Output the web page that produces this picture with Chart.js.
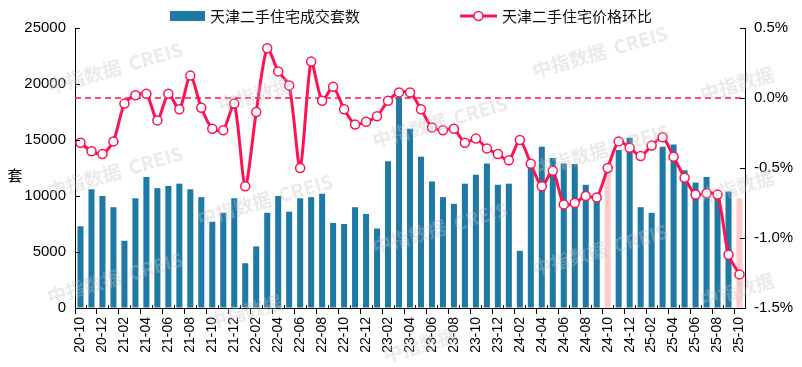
<!DOCTYPE html>
<html>
<head>
<meta charset="utf-8">
<script src="https://cdn.jsdelivr.net/npm/chart.js@4"></script>
<style>
  body { margin: 0; background: #fff; }
  #wrap { width: 802px; height: 367px; }
</style>
</head>
<body>
<div id="wrap"><canvas id="c" width="802" height="367"></canvas></div>
<script>
const months = [
  '20-10','20-11','20-12','21-01','21-02','21-03','21-04','21-05','21-06','21-07','21-08','21-09',
  '21-10','21-11','21-12','22-01','22-02','22-03','22-04','22-05','22-06','22-07','22-08','22-09',
  '22-10','22-11','22-12','23-01','23-02','23-03','23-04','23-05','23-06','23-07','23-08','23-09',
  '23-10','23-11','23-12','24-01','24-02','24-03','24-04','24-05','24-06','24-07','24-08','24-09',
  '24-10','24-11','24-12','25-01','25-02','25-03','25-04','25-05','25-06','25-07','25-08','25-09',
  '25-10'
];

// 成交套数
const volumes = [
  7300, 10600, 10000, 9000, 6000, 9800, 11700, 10700, 10900, 11100, 10600, 9900,
  7700, 8500, 9800, 4000, 5500, 8500, 10000, 8600, 9800, 9900, 10200, 7600,
  7500, 9000, 8400, 7100, 13100, 18800, 16000, 13500, 11300, 9900, 9300, 11100,
  11900, 12900, 11000, 11100, 5100, 12600, 14400, 13400, 12900, 12850, 11000, 9900,
  12400, 14100, 15200, 9000, 8500, 14400, 14600, 12300, 11200, 11700, 10300, 10400,
  9800
];

// 价格环比 (%)
const priceMoM = [
  -0.32, -0.38, -0.40, -0.31, -0.04, 0.02, 0.03, -0.16, 0.03, -0.08, 0.16, -0.07,
  -0.22, -0.23, -0.04, -0.63, -0.10, 0.355, 0.19, 0.09, -0.50, 0.26, -0.02, 0.08,
  -0.08, -0.19, -0.17, -0.13, -0.02, 0.04, 0.04, -0.08, -0.21, -0.23, -0.22, -0.32,
  -0.29, -0.36, -0.40, -0.445, -0.30, -0.47, -0.63, -0.52, -0.76, -0.75, -0.70, -0.71,
  -0.50, -0.31, -0.355, -0.415, -0.34, -0.28, -0.42, -0.57, -0.69, -0.68, -0.69, -1.12,
  -1.26
];

const highlightMonths = ['24-10', '25-10'];
const leftTicks = [0, 5000, 10000, 15000, 20000, 25000];
const rightTicks = [-1.5, -1.0, -0.5, 0.0, 0.5];

const BLUE = '#1f79a5';
const PINK = '#ffcccc';
const RED = '#ff1152';

const barColors = months.map(m => highlightMonths.includes(m) ? PINK : BLUE);

// watermark spots (decorative)
const marks = [
  [115, 68, 1], [115, 172, 1], [115, 278, 1], [255, 95, 0], [265, 200, 1],
  [440, 122, 1], [440, 228, 1], [245, 312, 0], [420, 345, 0],
  [600, 52, 1], [602, 150, 1], [600, 250, 1], [737, 84, 0], [737, 187, 0], [737, 290, 0]
];

const extras = {
  id: 'extras',
  beforeDatasetsDraw(chart) {
    const { ctx, chartArea, scales } = chart;
    const y0 = scales.y1.getPixelForValue(0);
    ctx.save();
    ctx.strokeStyle = RED;
    ctx.lineWidth = 1.3;
    ctx.setLineDash([6, 4]);
    ctx.beginPath();
    ctx.moveTo(chartArea.left, y0);
    ctx.lineTo(chartArea.right, y0);
    ctx.stroke();
    ctx.restore();
  },
  afterDraw(chart) {
    const { ctx, chartArea, scales } = chart;
    ctx.save();
    // inward ticks on both value axes
    ctx.strokeStyle = '#000';
    ctx.lineWidth = 1;
    leftTicks.forEach(v => {
      const y = Math.round(scales.y.getPixelForValue(v)) + 0.5;
      ctx.beginPath(); ctx.moveTo(chartArea.left, y); ctx.lineTo(chartArea.left + 5, y); ctx.stroke();
    });
    rightTicks.forEach(v => {
      const y = Math.round(scales.y1.getPixelForValue(v)) + 0.5;
      ctx.beginPath(); ctx.moveTo(chartArea.right - 5, y); ctx.lineTo(chartArea.right, y); ctx.stroke();
    });
    // short minor ticks between labelled months
    const step = scales.x.getPixelForValue(1) - scales.x.getPixelForValue(0);
    months.forEach((m, i) => {
      if (i % 2 === 1) {
        const x = Math.round(scales.x.getPixelForValue(i) - step / 2) + 0.5;
        ctx.beginPath(); ctx.moveTo(x, chartArea.bottom - 3); ctx.lineTo(x, chartArea.bottom + 1); ctx.stroke();
      }
    });

    // y title
    ctx.fillStyle = '#000';
    ctx.font = '15px "Noto Sans CJK SC"';
    ctx.textAlign = 'center';
    ctx.textBaseline = 'middle';
    ctx.fillText('套', 15, 175);

    // legend
    ctx.textAlign = 'left';
    ctx.fillStyle = BLUE;
    ctx.fillRect(170, 11, 35, 10);
    ctx.fillStyle = '#111';
    ctx.fillText(chart.data.datasets[1].label, 210, 16);
    ctx.strokeStyle = RED;
    ctx.lineWidth = 3;
    ctx.beginPath(); ctx.moveTo(460, 16); ctx.lineTo(497, 16); ctx.stroke();
    ctx.fillStyle = '#fff';
    ctx.lineWidth = 1.5;
    ctx.beginPath(); ctx.arc(478.5, 16, 4.5, 0, Math.PI * 2); ctx.fill(); ctx.stroke();
    ctx.fillStyle = '#111';
    ctx.fillText(chart.data.datasets[0].label, 502, 16);

    // watermarks
    ctx.font = 'bold 19px "Noto Sans CJK SC"';
    ctx.fillStyle = 'rgba(195,195,195,0.35)';
    ctx.textAlign = 'center';
    marks.forEach(([x, y, full]) => {
      ctx.save();
      ctx.translate(x, y);
      ctx.rotate(-0.28);
      ctx.fillText(full ? '中指数据  CREIS' : '中指数据', 0, 0);
      ctx.restore();
    });
    ctx.restore();
  }
};

new Chart(document.getElementById('c'), {
  data: {
    labels: months,
    datasets: [
      {
        type: 'line',
        label: '天津二手住宅价格环比',
        data: priceMoM,
        yAxisID: 'y1',
        borderColor: RED,
        borderWidth: 3,
        tension: 0.25,
        pointRadius: 4.5,
        pointBorderWidth: 1.5,
        pointBackgroundColor: '#fff',
        pointBorderColor: RED,
        order: 0
      },
      {
        type: 'bar',
        label: '天津二手住宅成交套数',
        data: volumes,
        yAxisID: 'y',
        backgroundColor: barColors,
        barPercentage: 0.55,
        categoryPercentage: 1,
        order: 1
      }
    ]
  },
  options: {
    responsive: false,
    animation: false,
    layout: { padding: { top: 28 } },
    plugins: { legend: { display: false }, tooltip: { enabled: false } },
    scales: {
      x: {
        offset: true,
        grid: {
          offset: true,
          drawOnChartArea: false,
          tickLength: 6,
          color: ctx => (ctx.index % 2 === 0 ? '#000' : 'rgba(0,0,0,0)')
        },
        border: { color: '#000', width: 1 },
        ticks: {
          autoSkip: false,
          maxRotation: 90,
          minRotation: 90,
          padding: 3,
          color: '#000',
          font: { family: 'Liberation Sans', size: 14 },
          callback: (v, i) => (i % 2 === 0 ? months[i] : '')
        },
        afterFit: s => { s.height = 59; }
      },
      y: {
        position: 'left',
        min: 0,
        max: 25000,
        grid: { drawOnChartArea: false, drawTicks: false },
        border: { color: '#000', width: 1 },
        ticks: {
          stepSize: 5000,
          padding: 9,
          color: '#000',
          font: { family: 'Liberation Sans', size: 15 },
          callback: v => String(v)
        },
        afterFit: s => { s.width = 75; }
      },
      y1: {
        position: 'right',
        min: -1.5,
        max: 0.5,
        grid: { drawOnChartArea: false, drawTicks: false },
        border: { color: '#000', width: 1 },
        ticks: {
          stepSize: 0.5,
          padding: 9,
          color: '#000',
          font: { family: 'Liberation Sans', size: 15 },
          callback: v => v.toFixed(1) + '%'
        },
        afterFit: s => { s.width = 57; }
      }
    }
  },
  plugins: [extras]
});
</script>
</body>
</html>
